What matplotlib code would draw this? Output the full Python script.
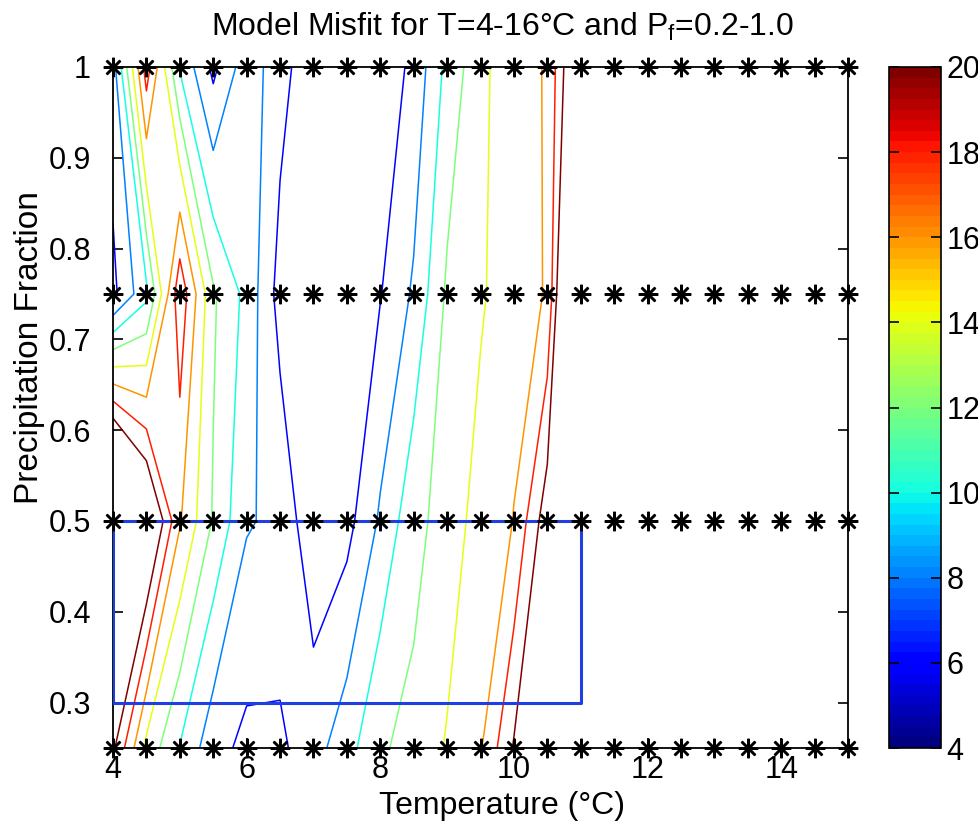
import numpy as np
import matplotlib
matplotlib.use('Agg')
import matplotlib.pyplot as plt
from matplotlib import cm, colors

plt.rcParams['font.family'] = ['Liberation Sans', 'DejaVu Sans']
plt.rcParams['mathtext.fontset'] = 'custom'
plt.rcParams['mathtext.rm'] = 'Liberation Sans'

# model grid (stars)
temps = [4.0, 4.5, 5.0, 5.5, 6.0, 6.5, 7.0, 7.5, 8.0, 8.5, 9.0, 9.5,
         10.0, 10.5, 11.0, 11.5, 12.0, 12.5, 13.0, 13.5, 14.0, 14.5, 15.0]
pfrac = [0.25, 0.5, 0.75, 1.0]

# misfit values per precipitation fraction row (estimated from the contours)
misfit_025 = [20.4, 13.4, 9.9, 6.7, 5.5, 5.6, 7.2, 9.2, 11.8, 12.5, 14.2, 15.8,
              20.2, 25.0, 28.5, 31.0, 33.5, 36.0, 38.0, 40.5, 42.5, 45.0, 47.0]
misfit_050 = [32.0, 23.8, 16.2, 11.8, 8.2, 7.5, 4.5, 5.3, 8.3, 11.4, 12.8, 14.9,
              16.05, 21.3, 26.0, 29.0, 32.0, 34.5, 37.0, 39.5, 42.0, 44.0, 46.5]
misfit_075 = [5.5, 9.5, 19.5, 12.3, 9.4, 5.2, 4.6, 4.8, 5.9, 8.3, 12.35, 13.7,
              15.4, 16.1, 30.0, 32.0, 34.0, 36.5, 38.5, 41.0, 43.0, 45.5, 47.5]
misfit_100 = [7.1, 19.0, 9.8, 5.5, 9.2, 6.8, 4.5, 4.4, 4.6, 6.5, 10.6, 13.4,
              15.5, 16.1, 24.0, 28.0, 31.0, 34.0, 36.5, 39.0, 41.5, 44.0, 46.0]

levels = [4, 6, 8, 10, 12, 14, 16, 18, 20]
cbar_ticks = [4, 6, 8, 10, 12, 14, 16, 18, 20]
xticks = [4, 6, 8, 10, 12, 14]
yticks = [0.3, 0.4, 0.5, 0.6, 0.7, 0.8, 0.9, 1.0]
yticklabels = ['0.3', '0.4', '0.5', '0.6', '0.7', '0.8', '0.9', '1']

# best-fit box
box_t = [4, 11]
box_pf = [0.3, 0.5]

Z = np.array([misfit_025, misfit_050, misfit_075, misfit_100])
norm = colors.Normalize(vmin=4, vmax=20)

fig = plt.figure(figsize=(9.79, 8.26), dpi=100)
ax = fig.add_axes([113/979, 1-748/826, 735/979, 681/826])
cax = fig.add_axes([889/979, 1-748/826, 52/979, 681/826])

ax.contour(temps, pfrac, Z, levels=levels, cmap='jet', norm=norm, linewidths=1.1)

bx = [box_t[0], box_t[1], box_t[1], box_t[0], box_t[0]]
by = [box_pf[0], box_pf[0], box_pf[1], box_pf[1], box_pf[0]]
ax.plot(bx, by, color='#1f3fe0', lw=2.2, zorder=4)

TT, PP = np.meshgrid(temps, pfrac)
ax.plot(TT.ravel(), PP.ravel(), ls='none', marker=(8, 2, 0), ms=14,
        mec='k', mew=1.8, clip_on=False, zorder=6)

ax.set_xlim(4, 15)
ax.set_ylim(0.25, 1.0)
ax.set_xticks(xticks)
ax.set_yticks(yticks)
ax.set_yticklabels(yticklabels)
ax.tick_params(direction='in', top=True, right=True, length=7, width=1.2,
               labelsize=22)
ax.tick_params(axis='x', pad=5)
ax.tick_params(axis='y', pad=16)
for s in ax.spines.values():
    s.set_linewidth(1.3)

fig.text(502/979, 1-36/826, 'Model Misfit for T=4-16°C and P$_\\mathrm{f}$=0.2-1.0',
         fontsize=23, ha='center', va='baseline')
fig.text(502/979, 1-806/826, 'Temperature (°C)', fontsize=23, ha='center', va='center')
fig.text(30/979, 1-348/826, 'Precipitation Fraction', fontsize=24, rotation=90,
         ha='center', va='center')

sm = cm.ScalarMappable(norm=norm, cmap=plt.get_cmap('jet', 64))
cb = fig.colorbar(sm, cax=cax, ticks=cbar_ticks)
cb.outline.set_linewidth(1.2)
cax.tick_params(direction='in', left=True, right=True, length=7, width=1.2,
                labelsize=22, pad=4)

fig.savefig('out.png', dpi=100)
